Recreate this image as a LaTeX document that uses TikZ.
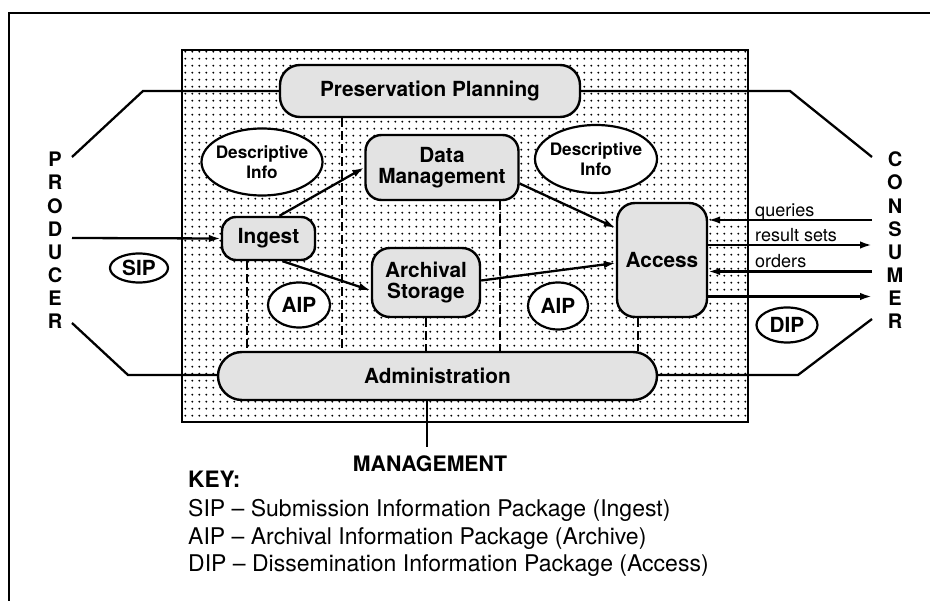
\documentclass[tikz,border=0pt]{standalone}
\usepackage{fontspec}
\setmainfont{TeX Gyre Heros}
\usetikzlibrary{arrows.meta,shapes.geometric,patterns.meta}
\definecolor{boxgray}{gray}{0.89}
\tikzdeclarepattern{
  name=stipple,
  type=uncolored,
  bottom left={(0pt,0pt)},
  top right={(7.3pt,7.3pt)},
  tile size={(7.3pt,7.3pt)},
  code={\fill (3.65pt,3.65pt) circle (1.1pt);}
}
\tikzset{
  lbl/.style={font=\fontsize{20.8}{21}\selectfont\bfseries, align=center},
  box/.style={lbl, draw, line width=2.4pt, fill=boxgray, inner sep=0pt},
  oval/.style={ellipse, draw, line width=2.2pt, fill=white, inner sep=0pt},
  desc/.style={font=\fontsize{17.2}{20}\selectfont\bfseries, align=center, inner sep=0pt},
  conn/.style={line width=2.3pt},
  arr/.style={conn, -{Latex[length=12pt,width=7.5pt]}},
  dsh/.style={line width=1.4pt, dash pattern=on 9pt off 4pt},
  side/.style={font=\fontsize{20}{20}\selectfont\bfseries, inner sep=0pt},
  small/.style={font=\fontsize{18}{18}\selectfont, anchor=base west, inner sep=0pt},
  keytxt/.style={font=\fontsize{23}{24}\selectfont, anchor=base west, inner sep=0pt},
}
\begin{document}
\begin{tikzpicture}[x=1pt,y=-1pt]
\useasboundingbox (0,0) rectangle (930,601);
\fill[white] (0,0) rectangle (930,601);
% outer frame
\draw[line width=2pt] (930,13) -- (9,13) -- (9,601);
% stippled archive area
\fill[pattern=stipple, pattern color=black] (182,50) rectangle (748,422);
\draw[line width=1.8pt] (182,50) rectangle (748,422);

% nodes
\node[box, rounded corners=20pt, minimum width=300pt, minimum height=52pt] (pp) at (430,91) {Preservation Planning};
\node[box, rounded corners=16pt, minimum width=153pt, minimum height=65pt] (dm) at (442,167.5) {Data\\Management};
\node[box, rounded corners=14pt, minimum width=93pt, minimum height=43pt] (ing) at (268.5,238.5) {Ingest};
\node[box, rounded corners=18pt, minimum width=108pt, minimum height=69pt] (as) at (426,282.5) {Archival\\Storage};
\node[box, rounded corners=18pt, minimum width=90pt, minimum height=114pt] (acc) at (662,260) {Access};
\node[box, rounded corners=24pt, minimum width=439pt, minimum height=48pt] (adm) at (437.5,376) {Administration};

\node[oval, minimum width=121pt, minimum height=67pt] (di1) at (262,162) {};
\node[desc] (di1t) at (di1) {Descriptive\\Info};
\node[oval, minimum width=122pt, minimum height=68pt] (di2) at (596,159) {};
\node[desc] (di2t) at (di2) {Descriptive\\Info};

\node[oval, lbl, minimum width=58pt, minimum height=29pt] (sip) at (139,268) {SIP};
\node[oval, lbl, minimum width=62pt, minimum height=45pt] (aip1) at (299,305) {AIP};
\node[oval, lbl, minimum width=60pt, minimum height=47pt] (aip2) at (558,306) {AIP};
\node[oval, lbl, minimum width=61pt, minimum height=35pt] (dip) at (787,325) {DIP};

% dashed separators
\draw[dsh] (pp.south -| 342,0) -- (adm.north -| 342,0);
\draw[dsh] (ing.south -| 247,0) -- (adm.north -| 247,0);
\draw[dsh] (dm.south -| 500,0) -- (adm.north -| 500,0);
\draw[dsh] (as.south -| 426,0) -- (adm.north -| 426,0);
\draw[dsh] (acc.south -| 638,0) -- (adm.north -| 638,0);

% producer / consumer letters
\foreach \l [count=\i from 0] in {P,R,O,D,U,C,E,R}
  \node[side] (prod\i) at (55,159.5+23.14*\i) {\l};
\foreach \l [count=\i from 0] in {C,O,N,S,U,M,E,R}
  \node[side] (cons\i) at (895,159.5+23.14*\i) {\l};

% side coordinates
\coordinate (ppL1) at (143,91);
\coordinate (ppL2) at (72,157);
\coordinate (ppR1) at (790,91);
\coordinate (ppR2) at (872,157);
\coordinate (adL1) at (128,375);
\coordinate (adL2) at (72,323);
\coordinate (adR1) at (798,375);
\coordinate (adR2) at (872,319);
\coordinate (prodIn) at (72,238);
\coordinate (cq) at (872,220);
\coordinate (cr) at (872,245);
\coordinate (co) at (872,271.5);
\coordinate (cd) at (872,296.5);
\coordinate (mg) at (427,447);

% connectors
\draw[conn] (pp.west) -- (ppL1) -- (ppL2);
\draw[conn] (pp.east) -- (ppR1) -- (ppR2);
\draw[conn] ([yshift=1pt]adm.west) -- (adL1) -- (adL2);
\draw[conn] ([yshift=1pt]adm.east) -- (adR1) -- (adR2);
\draw[conn] (adm.south -| mg) -- (mg);

\draw[arr] (prodIn) -- (ing.west);
\draw[arr] ([xshift=11pt]ing.north) -- (dm.west);
\draw[arr] ([xshift=14pt]ing.south) -- ([yshift=-8pt]as.west);
\draw[arr] ([yshift=-16pt]dm.east) -- ([yshift=32pt]acc.west);
\draw[arr] ([yshift=2pt]as.east) -- ([yshift=-3pt]acc.west);

\draw[arr] (cq) -- (acc.east |- cq);
\draw[arr] (acc.east |- cr) -- (cr);
\draw[arr] (co) -- (acc.east |- co);
\draw[arr] (acc.east |- cd) -- (cd);

\node[small] (lq) at (755,217) {queries};
\node[small] (lr) at (755,241.5) {result sets};
\node[small] (lo) at (755,268) {orders};

% management and key
\node[lbl, font=\fontsize{21.3}{22}\selectfont\bfseries, anchor=base, inner sep=0pt] (mgt) at (430,472) {MANAGEMENT};
\node[keytxt, font=\fontsize{22.6}{24}\selectfont\bfseries] (key) at (188,488) {KEY:};
\node[keytxt] (k1) at (188,517) {SIP -- Submission Information Package (Ingest)};
\node[keytxt] (k2) at (188,545) {AIP -- Archival Information Package (Archive)};
\node[keytxt] (k3) at (188,572) {DIP -- Dissemination Information Package (Access)};
\end{tikzpicture}
\end{document}
